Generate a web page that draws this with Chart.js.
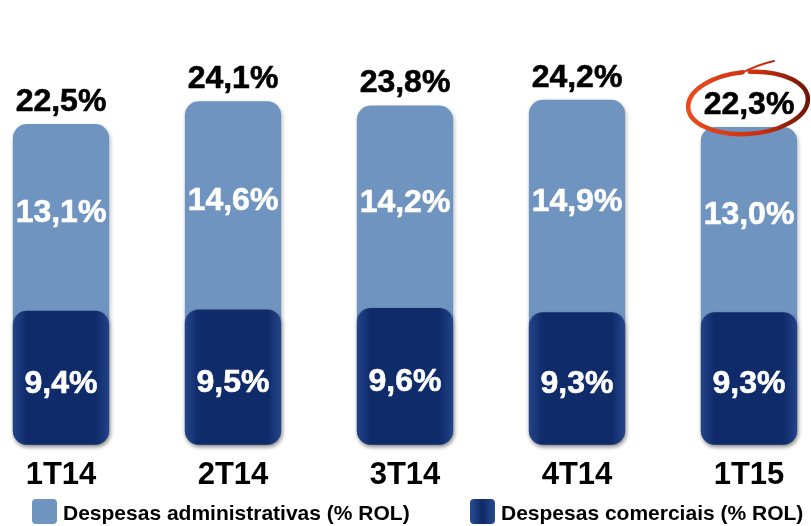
<!DOCTYPE html>
<html>
<head>
<meta charset="utf-8">
<script src="https://cdn.jsdelivr.net/npm/chart.js@4.4.1/dist/chart.umd.min.js"></script>
<style>
  html, body { margin: 0; padding: 0; background: #fff; }
  #wrap { width: 811px; height: 526px; }
</style>
</head>
<body>
<div id="wrap"><canvas id="chart"></canvas></div>
<script>
// dados (% ROL)
const quarters = ["1T14", "2T14", "3T14", "4T14", "1T15"];
const despAdmin = [13.1, 14.6, 14.2, 14.9, 13.0];
const despComerciais = [9.4, 9.5, 9.6, 9.3, 9.3];
const totals = [22.5, 24.1, 23.8, 24.2, 22.3];
const seriesNames = ["Despesas administrativas (% ROL)", "Despesas comerciais (% ROL)"];

const FONT = "'Liberation Sans', Arial, sans-serif";
const LIGHT = "#6f94c0";
const DARK = "#0e2a66";

const fmt = (v) => v.toFixed(1).replace(".", ",") + "%";

// gradiente horizontal das barras escuras (bordas mais claras)
function darkFill(c) {
  const chart = c.chart;
  const sx = chart.scales && chart.scales.x;
  const x = sx ? sx.getPixelForValue(c.dataIndex) : NaN;
  if (!isFinite(x)) return DARK;
  const g = chart.ctx.createLinearGradient(x - 48, 0, x + 48, 0);
  g.addColorStop(0, "#24448a");
  g.addColorStop(0.14, "#0f2b6a");
  g.addColorStop(0.86, "#0f2b6a");
  g.addColorStop(1, "#24448a");
  return g;
}

const barShadow = {
  id: "barShadow",
  beforeDatasetDraw(chart) {
    const ctx = chart.ctx;
    ctx.save();
    ctx.shadowColor = "rgba(0,0,0,0.28)";
    ctx.shadowBlur = 4;
    ctx.shadowOffsetX = 1;
    ctx.shadowOffsetY = 2;
  },
  afterDatasetDraw(chart) {
    chart.ctx.restore();
  },
};

// texto em negrito um pouco mais pesado
function boldText(ctx, txt, x, y, color) {
  ctx.fillStyle = color;
  ctx.strokeStyle = color;
  ctx.lineWidth = 0.6;
  ctx.lineJoin = "round";
  ctx.strokeText(txt, x, y);
  ctx.fillText(txt, x, y);
}

const valueLabels = {
  id: "valueLabels",
  afterDatasetsDraw(chart) {
    const ctx = chart.ctx;
    const adminMeta = chart.getDatasetMeta(0);
    const comMeta = chart.getDatasetMeta(1);
    ctx.save();
    ctx.font = `bold 32px ${FONT}`;
    ctx.textAlign = "center";
    ctx.textBaseline = "middle";
    quarters.forEach((q, i) => {
      const a = adminMeta.data[i];
      const c = comMeta.data[i];
      boldText(ctx, fmt(despAdmin[i]), a.x, (a.y + c.y) / 2 - 4, "#fff");
      boldText(ctx, fmt(despComerciais[i]), c.x, (c.y + c.base) / 2 + 6, "#fff");
      boldText(ctx, fmt(totals[i]), a.x, a.y - 22, "#000");
    });

    // destaque no ultimo trimestre
    const last = adminMeta.data[quarters.length - 1];
    const cx = last.x - 1;
    const cy = last.y - 24;
    const g = ctx.createLinearGradient(cx - 60, 0, cx + 60, 0);
    g.addColorStop(0, "#ea4a1e");
    g.addColorStop(0.6, "#c8300f");
    g.addColorStop(1, "#6e1606");
    ctx.strokeStyle = g;
    ctx.lineWidth = 4.5;
    ctx.lineCap = "round";
    ctx.beginPath();
    ctx.ellipse(cx, cy, 60, 31, -0.08, -1.5, -1.5 + Math.PI * 2 - 0.12, false);
    ctx.stroke();
    ctx.lineWidth = 2;
    ctx.beginPath();
    ctx.moveTo(cx - 8, cy - 29);
    ctx.quadraticCurveTo(cx + 8, cy - 38, cx + 26, cy - 42);
    ctx.stroke();
    ctx.restore();
  },
};

const customLegend = {
  id: "customLegend",
  afterDraw(chart) {
    const ctx = chart.ctx;
    const y = 499;
    const items = [
      { x: 32, fill: LIGHT, text: seriesNames[0] },
      { x: 470, fill: null, text: seriesNames[1] },
    ];
    ctx.save();
    items.forEach((it) => {
      let fill = it.fill;
      if (!fill) {
        fill = ctx.createLinearGradient(it.x, 0, it.x + 25, 0);
        fill.addColorStop(0, "#2a4b92");
        fill.addColorStop(0.5, "#0e2a66");
        fill.addColorStop(1, "#2a4b92");
      }
      ctx.fillStyle = fill;
      ctx.beginPath();
      ctx.roundRect(it.x, y, 25, 25, 4);
      ctx.fill();
      ctx.font = `bold 21px ${FONT}`;
      ctx.textAlign = "left";
      ctx.textBaseline = "middle";
      ctx.fillStyle = "#000";
      ctx.fillText(it.text, it.x + 31, y + 15);
    });
    ctx.restore();
  },
};

new Chart(document.getElementById("chart"), {
  type: "bar",
  data: {
    labels: quarters,
    datasets: [
      {
        label: seriesNames[0],
        data: totals.map((t) => [0, t]),
        backgroundColor: LIGHT,
        borderRadius: 14,
        borderSkipped: false,
        grouped: false,
        order: 2,
        clip: false,
      },
      {
        label: seriesNames[1],
        data: despComerciais,
        backgroundColor: darkFill,
        borderRadius: 14,
        borderSkipped: false,
        grouped: false,
        order: 1,
        clip: false,
      },
    ],
  },
  options: {
    responsive: true,
    maintainAspectRatio: false,
    animation: false,
    layout: { padding: { left: 61, right: 62, top: 20, bottom: 20 } },
    datasets: { bar: { categoryPercentage: 0.8, barPercentage: 0.7 } },
    scales: {
      x: {
        offset: false,
        grid: { display: false, drawTicks: false },
        border: { display: false },
        ticks: {
          color: "#000",
          padding: 12,
          font: { family: FONT, size: 31, weight: "bold" },
        },
      },
      y: {
        display: false,
        min: 0,
        max: 29.8,
      },
    },
    plugins: {
      legend: { display: false },
      tooltip: { enabled: false },
    },
  },
  plugins: [barShadow, valueLabels, customLegend],
});
</script>
</body>
</html>
